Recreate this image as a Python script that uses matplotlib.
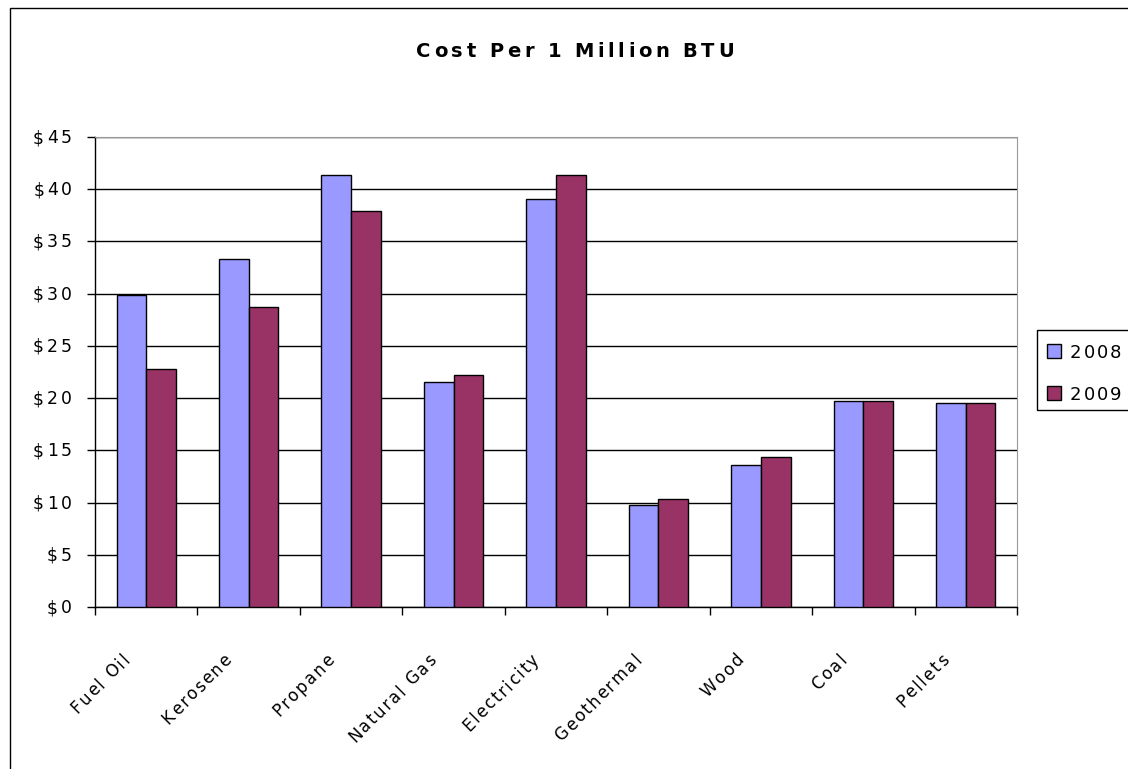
import numpy as np
import matplotlib.pyplot as plt
from matplotlib.patches import Rectangle
from matplotlib.font_manager import FontProperties
from matplotlib.transforms import IdentityTransform

plt.rcParams['font.family'] = ['DejaVu Sans']

fuels = ["Fuel Oil", "Kerosene", "Propane", "Natural Gas", "Electricity",
         "Geothermal", "Wood", "Coal", "Pellets"]
cost_2008 = [29.9, 33.3, 41.4, 21.5, 39.1, 9.8, 13.6, 19.7, 19.5]
cost_2009 = [22.8, 28.7, 37.9, 22.2, 41.4, 10.3, 14.4, 19.7, 19.5]
yticks = [0, 5, 10, 15, 20, 25, 30, 35, 40, 45]
years = ["2008", "2009"]
colors = ['#9999ff', '#993366']

W, H = 1128, 769
fig = plt.figure(figsize=(W / 100, H / 100), dpi=100)
ax = fig.add_axes([95/W, 162/H, 922/W, 470/H])
renderer = fig.canvas.get_renderer()


def advance(c, prop):
    # advance width of one character in pixels
    w2 = renderer.get_text_width_height_descent("HH", prop, ismath=False)[0]
    w3 = renderer.get_text_width_height_descent("H" + c + "H", prop, ismath=False)[0]
    return w3 - w2


def spaced_text(s, x, y, size, spacing, angle=0, ha='left', weight='normal'):
    # Excel-like wide text, x/y in pixels from bottom left (baseline)
    prop = FontProperties(family=['DejaVu Sans'], size=size, weight=weight)
    adv = [advance(c, prop) for c in s]
    total = sum(adv) + spacing * (len(s) - 1)
    ux, uy = np.cos(np.radians(angle)), np.sin(np.radians(angle))
    shift = {'left': 0, 'center': total / 2, 'right': total}[ha]
    px, py = x - shift * ux, y - shift * uy
    for c, a in zip(s, adv):
        if c != ' ':
            fig.text(px, py, c, transform=IdentityTransform(), fontproperties=prop,
                     rotation=angle, rotation_mode='anchor', ha='left', va='baseline')
        px += (a + spacing) * ux
        py += (a + spacing) * uy


# outer chart border
fig.patches.append(Rectangle((10/W, -0.05), 1.1, 1 - 8/H + 0.05,
                             transform=fig.transFigure, fill=False,
                             edgecolor='black', linewidth=1.0))

x = np.arange(len(fuels))
w = 0.29
ax.bar(x - w/2, cost_2008, w, color=colors[0], edgecolor='black',
       linewidth=1.0, zorder=3)
ax.bar(x + w/2, cost_2009, w, color=colors[1], edgecolor='black',
       linewidth=1.0, zorder=3)

ax.set_xlim(-0.5, len(fuels) - 0.5)
ax.set_ylim(0, 45)
ax.set_yticks(yticks)
ax.set_yticklabels([])
ax.yaxis.grid(True, color='black', linewidth=1.0, zorder=0)
ax.set_xticks(np.arange(len(fuels) + 1) - 0.5)
ax.set_xticklabels([])
ax.tick_params(axis='both', length=6, width=1.0, direction='out')

ax.spines['top'].set_color('#999999')
ax.spines['right'].set_color('#999999')
ax.spines['left'].set_linewidth(1.0)
ax.spines['bottom'].set_linewidth(1.0)

# y tick labels
for v in yticks:
    _, py = ax.transData.transform((0, v))
    spaced_text(f"${v}", 72, py - 6, 12.4, 3, ha='right')

# x category labels
for i, name in enumerate(fuels):
    px, _ = ax.transData.transform((i, 0))
    spaced_text(name, px - 16, H - 661, 12, 1.8, angle=45, ha='right')

# title
spaced_text("Cost Per 1 Million BTU", 575, H - 57, 14, 3.5, ha='center', weight='bold')

# legend
fig.patches.append(Rectangle((1037/W, 1 - 410/H), 0.2, 80/H,
                             transform=fig.transFigure, facecolor='white',
                             edgecolor='black', linewidth=1.0))
for k, (yr, col) in enumerate(zip(years, colors)):
    base = 358 + 42 * k
    fig.patches.append(Rectangle((1047/W, 1 - base/H), 14/W, 14/H,
                                 transform=fig.transFigure, facecolor=col,
                                 edgecolor='black', linewidth=1.0))
    spaced_text(yr, 1070, H - base, 13, 2)

fig.savefig("out.png", dpi=100)
